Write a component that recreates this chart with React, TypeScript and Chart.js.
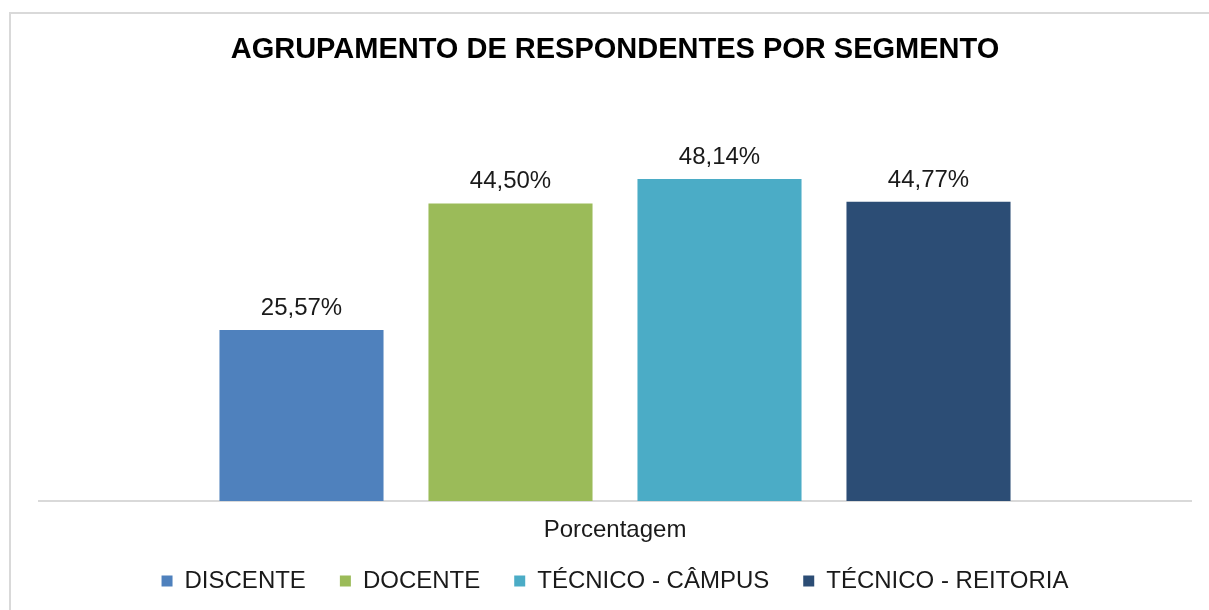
import React, { useEffect, useRef } from "react";
import { Chart, registerables } from "chart.js";

Chart.register(...registerables);

const TITLE = "AGRUPAMENTO DE RESPONDENTES POR SEGMENTO";
const CATEGORIES = ["Porcentagem"];
const SERIES_NAMES = ["DISCENTE", "DOCENTE", "TÉCNICO - CÂMPUS", "TÉCNICO - REITORIA"];
const SERIES_VALUES = [25.57, 44.5, 48.14, 44.77];
const SERIES_COLORS = ["#4F81BD", "#9BBB59", "#4BACC6", "#2C4D75"];
const Y_MAX = 60;

const FONT = "'Liberation Sans', Arial, sans-serif";

const fmt = (v: number) => v.toFixed(2).replace(".", ",") + "%";

const framePlugin = {
  id: "frame",
  beforeDraw(chart: any) {
    const { ctx, width, height } = chart;
    ctx.save();
    ctx.fillStyle = "#ffffff";
    ctx.fillRect(0, 0, width, height);
    ctx.strokeStyle = "#d9d9d9";
    ctx.lineWidth = 2;
    ctx.beginPath();
    ctx.moveTo(width + 2, 13);
    ctx.lineTo(10, 13);
    ctx.lineTo(10, height + 2);
    ctx.stroke();
    ctx.restore();
  },
};

// let the category label extend below the (shrunk) axis box without clipping
const unclipPlugin = {
  id: "unclip",
  afterLayout(chart: any) {
    const x = chart.scales.x;
    if (x) x.bottom = chart.height;
  },
};

const valueLabelPlugin = {
  id: "valueLabels",
  afterDatasetsDraw(chart: any) {
    const { ctx } = chart;
    ctx.save();
    ctx.font = `24px ${FONT}`;
    ctx.fillStyle = "#1a1a1a";
    ctx.textAlign = "center";
    ctx.textBaseline = "alphabetic";
    chart.data.datasets.forEach((ds: any, i: number) => {
      const meta = chart.getDatasetMeta(i);
      meta.data.forEach((bar: any, j: number) => {
        ctx.fillText(fmt(ds.data[j]), bar.x, bar.y - 15);
      });
    });
    ctx.restore();
  },
};

export default function App() {
  const ref = useRef<HTMLCanvasElement | null>(null);

  useEffect(() => {
    if (!ref.current) return;
    const chart = new Chart(ref.current, {
      type: "bar",
      data: {
        labels: CATEGORIES,
        datasets: SERIES_NAMES.map((name, i) => ({
          label: name,
          data: [SERIES_VALUES[i]],
          backgroundColor: SERIES_COLORS[i],
          borderWidth: 0,
          categoryPercentage: 0.7257,
          barPercentage: 0.785,
        })),
      },
      options: {
        animation: false,
        responsive: false,
        maintainAspectRatio: false,
        layout: { padding: { left: 39, right: 18, top: 0, bottom: 7 } },
        plugins: {
          title: {
            display: true,
            text: TITLE,
            color: "#000000",
            font: { family: FONT, size: 29, weight: "bold" },
            padding: { top: 33, bottom: 32 },
          },
          legend: {
            display: true,
            position: "bottom",
            labels: {
              boxWidth: 11,
              boxHeight: 11,
              padding: 34,
              color: "#1a1a1a",
              font: { family: FONT, size: 24 },
            },
          },
          tooltip: { enabled: false },
        },
        scales: {
          x: {
            grid: { display: false, drawTicks: false },
            border: { display: true, color: "#d9d9d9", width: 2 },
            ticks: {
              color: "#1a1a1a",
              font: { family: FONT, size: 24 },
              padding: 15,
            },
            afterFit: (scale: any) => {
              scale.height = 34;
            },
          },
          y: {
            display: false,
            min: 0,
            max: Y_MAX,
          },
        },
      },
      plugins: [framePlugin, unclipPlugin, valueLabelPlugin],
    });
    return () => chart.destroy();
  }, []);

  return (
    <div style={{ position: "absolute", left: 0, top: 0, width: 1209, height: 610 }}>
      <canvas ref={ref} width={1209} height={610} style={{ display: "block" }} />
    </div>
  );
}
